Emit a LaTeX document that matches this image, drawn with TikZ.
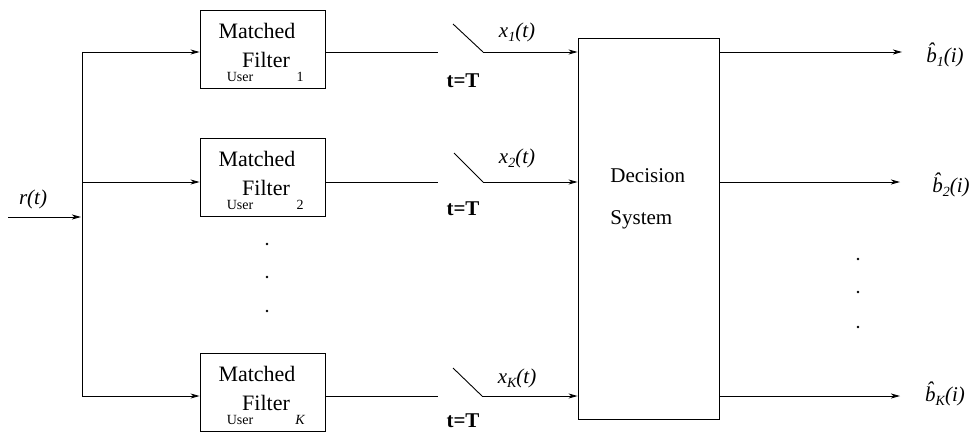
\documentclass[tikz,border=0pt]{standalone}
\usepackage{fontspec}
\setmainfont{Liberation Serif}
\usetikzlibrary{arrows.meta}
\newcommand\lowsub[1]{\raisebox{-0.45ex}{\fontsize{14}{16}\selectfont #1}}
\newcommand\bhatsym{\^{b}}
\begin{document}
\begin{tikzpicture}[x=1pt,y=-1pt, line width=0.9pt,
 arr/.style={-{Stealth[length=9pt,width=5pt,inset=2.5pt]}},
 filt/.style={draw, minimum width=125pt, minimum height=78pt, inner sep=0},
 dec/.style={draw, minimum width=141pt, minimum height=381pt, inner sep=0},
 mf/.style={font=\fontsize{22}{24}\selectfont, inner sep=0},
 usr/.style={font=\fontsize{14}{16}\selectfont, inner sep=0},
 lab/.style={font=\fontsize{21}{24}\selectfont\itshape, inner sep=0},
 tt/.style={font=\fontsize{21}{24}\selectfont\bfseries, inner sep=0},
 dtext/.style={font=\fontsize{21}{24}\selectfont, inner sep=0, anchor=west},
 dotn/.style={circle, fill, inner sep=0, minimum size=2.6pt}]
\useasboundingbox (0,0) rectangle (973,433);

% filter boxes
\node[filt] (f1) at (262.5,49) {};
\node[mf] (m1) at (257,31) {Matched};
\node[mf] (fl1) at (266,60) {Filter};
\node[usr] (u1) at (240,77) {User};
\node[usr] (n1) at (300,77) {1};

\node[filt] (f2) at (262.5,177.5) {};
\node[mf] (m2) at (257,159) {Matched};
\node[mf] (fl2) at (266,188) {Filter};
\node[usr] (u2) at (240,205) {User};
\node[usr] (n2) at (300,205) {2};

\node[filt] (fK) at (262.5,392.5) {};
\node[mf] (mK) at (257,374) {Matched};
\node[mf] (flK) at (266,403) {Filter};
\node[usr] (uK) at (240,420) {User};
\node[usr] (nK) at (300,420) {\itshape K};

\node[dotn] (md1) at (267,244) {};
\node[dotn] (md2) at (267,277) {};
\node[dotn] (md3) at (267,311) {};

% decision system
\node[dec] (d) at (648.5,228.5) {};
\node[dtext] (dt1) at (610,176) {Decision};
\node[dtext] (dt2) at (610,220) {System};

% input and bus
\node[lab] (rt) at (33,199) {r(t)};
\coordinate (in) at (8,217);
\coordinate (bi) at (81,217);
\coordinate (bt) at (82,52);
\coordinate (b2) at (82,182);
\coordinate (bb) at (82,396);
\draw[arr] (in) -- (bi);
\draw (bt) -- (bb);
\draw[arr] (bt) -- (bt -| f1.west);
\draw[arr] (b2) -- (b2 -| f2.west);
\draw[arr] (bb) -- (bb -| fK.west);

% row 1
\coordinate (o1) at (438,52);
\coordinate (s1a) at (453,24);
\coordinate (s1b) at (483,52);
\coordinate (e1) at (902,52);
\draw (f1.east |- o1) -- (o1);
\draw (s1a) -- (s1b);
\draw[arr] (s1b) -- (s1b -| d.west);
\draw[arr] (d.east |- e1) -- (e1);
\node[lab] (x1) at (517,32) {x\lowsub{1}(t)};
\node[tt] (t1) at (463,81) {t=T};
\node[lab] (y1) at (945,55) {\bhatsym\lowsub{1}(i)};

% row 2
\coordinate (o2) at (438,182);
\coordinate (s2a) at (454,153);
\coordinate (s2b) at (483,182);
\coordinate (e2) at (900,182);
\draw (f2.east |- o2) -- (o2);
\draw (s2a) -- (s2b);
\draw[arr] (s2b) -- (s2b -| d.west);
\draw[arr] (d.east |- e2) -- (e2);
\node[lab] (x2) at (517,158) {x\lowsub{2}(t)};
\node[tt] (t2) at (463,209) {t=T};
\node[lab] (y2) at (951,185) {\bhatsym\lowsub{2}(i)};

% row K
\coordinate (oK) at (438,396);
\coordinate (sKa) at (453,368);
\coordinate (sKb) at (482,396);
\coordinate (eK) at (900,396);
\draw (fK.east |- oK) -- (oK);
\draw (sKa) -- (sKb);
\draw[arr] (sKb) -- (sKb -| d.west);
\draw[arr] (d.east |- eK) -- (eK);
\node[lab] (xK) at (517,378) {x\lowsub{K}(t)};
\node[tt] (tK) at (463,421) {t=T};
\node[lab] (yK) at (945,394) {\bhatsym\lowsub{K}(i)};

\node[dotn] (rd1) at (858,259) {};
\node[dotn] (rd2) at (858,292) {};
\node[dotn] (rd3) at (858,327) {};
\end{tikzpicture}
\end{document}
